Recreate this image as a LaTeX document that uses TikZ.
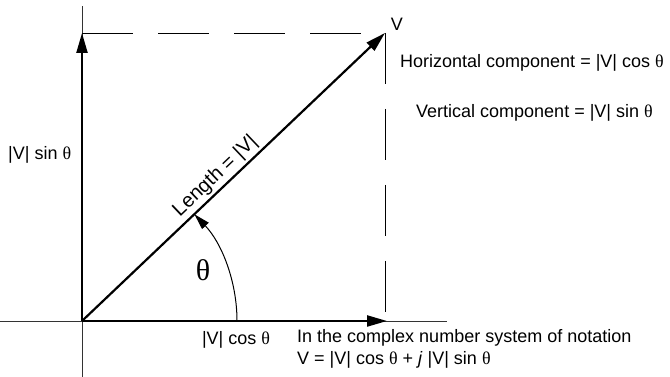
\documentclass[tikz,border=0pt]{standalone}
\usepackage{fontspec}
\setmainfont{Liberation Sans}
\newfontfamily\symf{Liberation Serif}
\usetikzlibrary{arrows.meta}
\newcommand{\thet}{{\symf θ}}
\tikzset{
  axisline/.style={line width=0.9pt, draw=black!80},
  vecline/.style={line width=2.2pt, -{Triangle[length=20pt,width=11pt]}},
  dashline/.style={line width=0.9pt, dash pattern=on 51pt off 25pt},
  lbl/.style={font=\fontsize{18}{21}\selectfont, inner sep=0pt},
}
\begin{document}
\begin{tikzpicture}[x=1pt,y=1pt]
\useasboundingbox (0,0) rectangle (670,377);
\coordinate (O) at (82,56);
\coordinate (VT) at (385,344);
\coordinate (YT) at (82,344);
\coordinate (XT) at (387,56);
\coordinate (AT) at (82,371);
\coordinate (AB) at (82,0);
\coordinate (AL) at (0,56);
\coordinate (AR) at (447,56);
\coordinate (VX) at (385,56);
\coordinate (ARCS) at (237,56);
% axes
\draw[axisline] (AB) -- (AT);
\draw[axisline] (AL) -- (AR);
% dashed projections
\draw[dashline] (YT) -- (VT);
\draw[dashline] (VT) -- (VX);
% vectors
\draw[vecline] (O) -- (YT);
\draw[vecline] (O) -- (XT);
\draw[vecline] (O) -- node[lbl, font=\fontsize{20}{22}\selectfont, pos=0.47, sloped, above=2.5pt] (len) {Length = |V|} (VT);
% angle arc
\draw[line width=1pt, -{Triangle[length=16pt,width=9pt]}] (ARCS) arc[start angle=0, end angle=43.5, radius=155];
% labels
\node[lbl] (v) at (397,353) {V};
\node[lbl, anchor=west] (hc) at (400,314) {Horizontal component = |V| cos \thet};
\node[lbl, anchor=west] (vc) at (416,264) {Vertical component = |V| sin \thet};
\node[lbl, anchor=west] (ys) at (8,222) {|V| sin \thet};
\node[lbl] (xc) at (236,37) {|V| cos \thet};
\node[font=\fontsize{30}{32}\selectfont\symf, inner sep=0pt] (th) at (203,107) {θ};
\node[lbl, anchor=west] (c1) at (297,39) {In the complex number system of notation};
\node[lbl, anchor=west] (c2) at (297,17) {V = |V| cos \thet{} + \textit{j} |V| sin \thet};
\end{tikzpicture}
\end{document}
